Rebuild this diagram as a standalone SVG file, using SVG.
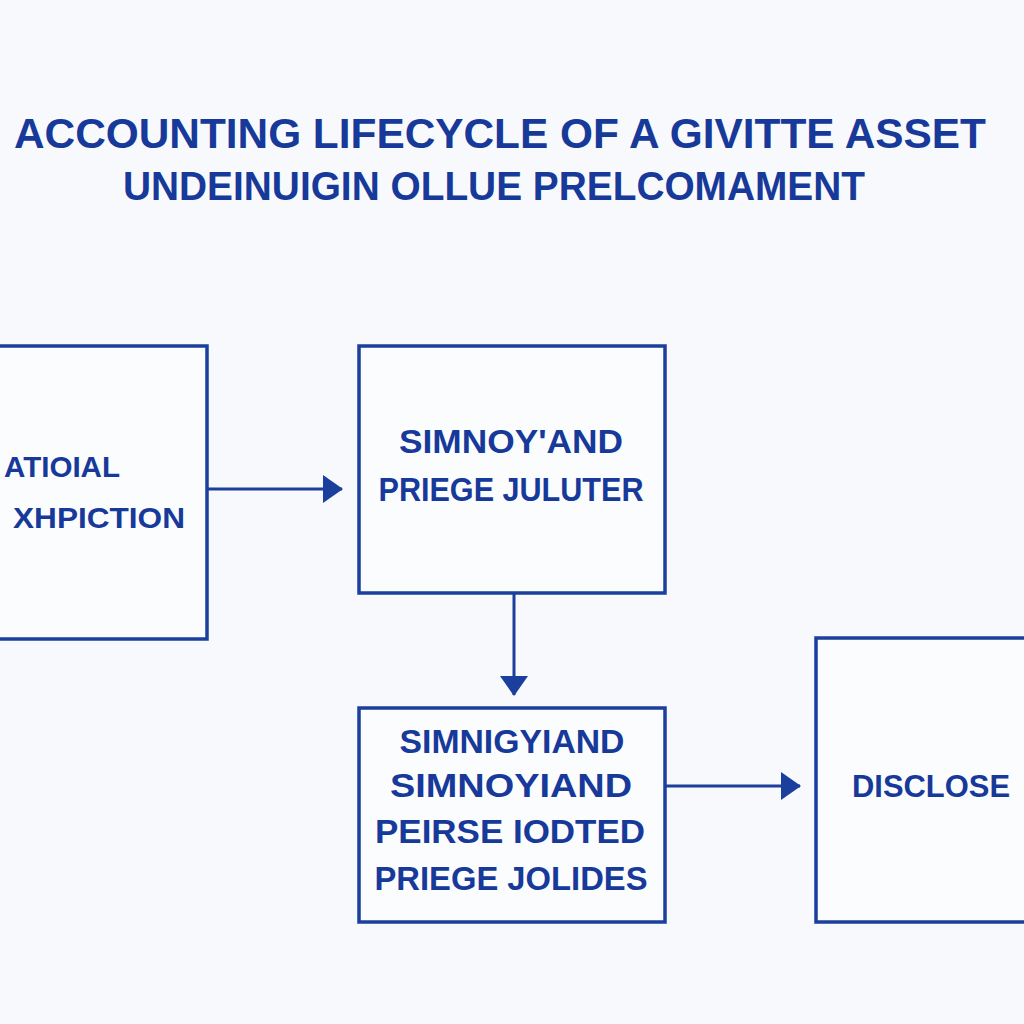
<svg xmlns="http://www.w3.org/2000/svg" width="1024" height="1024" viewBox="0 0 1024 1024">
<style>
.bg{fill:#f8f9fc}
.box{fill:#fbfcfe;stroke:#1a3f9c;stroke-width:3.5}
.t{font-family:"Liberation Sans",Arial,sans-serif;font-weight:bold;fill:#17399a}
.conn{stroke:#1a3f9c;stroke-width:3;fill:none}
</style>
<defs>
<marker id="ah" markerUnits="userSpaceOnUse" markerWidth="20" markerHeight="28" refX="19" refY="14" orient="auto">
<path d="M0,0 L20,14 L0,28 Z" fill="#1a3f9c"/>
</marker>
</defs>
<rect class="bg" x="0" y="0" width="1024" height="1024"/>
<g id="title">
<text class="t" x="500" y="148" font-size="42" text-anchor="middle" textLength="972" lengthAdjust="spacingAndGlyphs">ACCOUNTING LIFECYCLE OF A GIVITTE ASSET</text>
<text class="t" x="494" y="200" font-size="40" text-anchor="middle" textLength="742" lengthAdjust="spacingAndGlyphs">UNDEINUIGIN OLLUE PRELCOMAMENT</text>
</g>
<g id="connectors">
<line class="conn" x1="207" y1="489" x2="342" y2="489" marker-end="url(#ah)"/>
<line class="conn" x1="514" y1="593" x2="514" y2="695" marker-end="url(#ah)"/>
<line class="conn" x1="665" y1="786" x2="800" y2="786" marker-end="url(#ah)"/>
</g>
<g id="node1">
<rect class="box" x="-10" y="346" width="217" height="293"/>
<text class="t" x="120" y="477" font-size="30" text-anchor="end" textLength="116" lengthAdjust="spacingAndGlyphs">ATIOIAL</text>
<text class="t" x="185" y="528" font-size="30" text-anchor="end" textLength="172" lengthAdjust="spacingAndGlyphs">XHPICTION</text>
</g>
<g id="node2">
<rect class="box" x="359" y="346" width="306" height="247"/>
<text class="t" x="511" y="453" font-size="34" text-anchor="middle" textLength="224" lengthAdjust="spacingAndGlyphs">SIMNOY'AND</text>
<text class="t" x="511" y="501" font-size="34" text-anchor="middle" textLength="265" lengthAdjust="spacingAndGlyphs">PRIEGE JULUTER</text>
</g>
<g id="node3">
<rect class="box" x="359" y="708" width="306" height="214"/>
<text class="t" x="512" y="753" font-size="34" text-anchor="middle" textLength="225" lengthAdjust="spacingAndGlyphs">SIMNIGYIAND</text>
<text class="t" x="511" y="797" font-size="34" text-anchor="middle" textLength="242" lengthAdjust="spacingAndGlyphs">SIMNOYIAND</text>
<text class="t" x="510" y="843" font-size="34" text-anchor="middle" textLength="270" lengthAdjust="spacingAndGlyphs">PEIRSE IODTED</text>
<text class="t" x="511" y="890" font-size="34" text-anchor="middle" textLength="273" lengthAdjust="spacingAndGlyphs">PRIEGE JOLIDES</text>
</g>
<g id="node4">
<rect class="box" x="816" y="638" width="220" height="284"/>
<text class="t" x="852" y="797" font-size="32" textLength="158" lengthAdjust="spacingAndGlyphs">DISCLOSE</text>
</g>
</svg>
